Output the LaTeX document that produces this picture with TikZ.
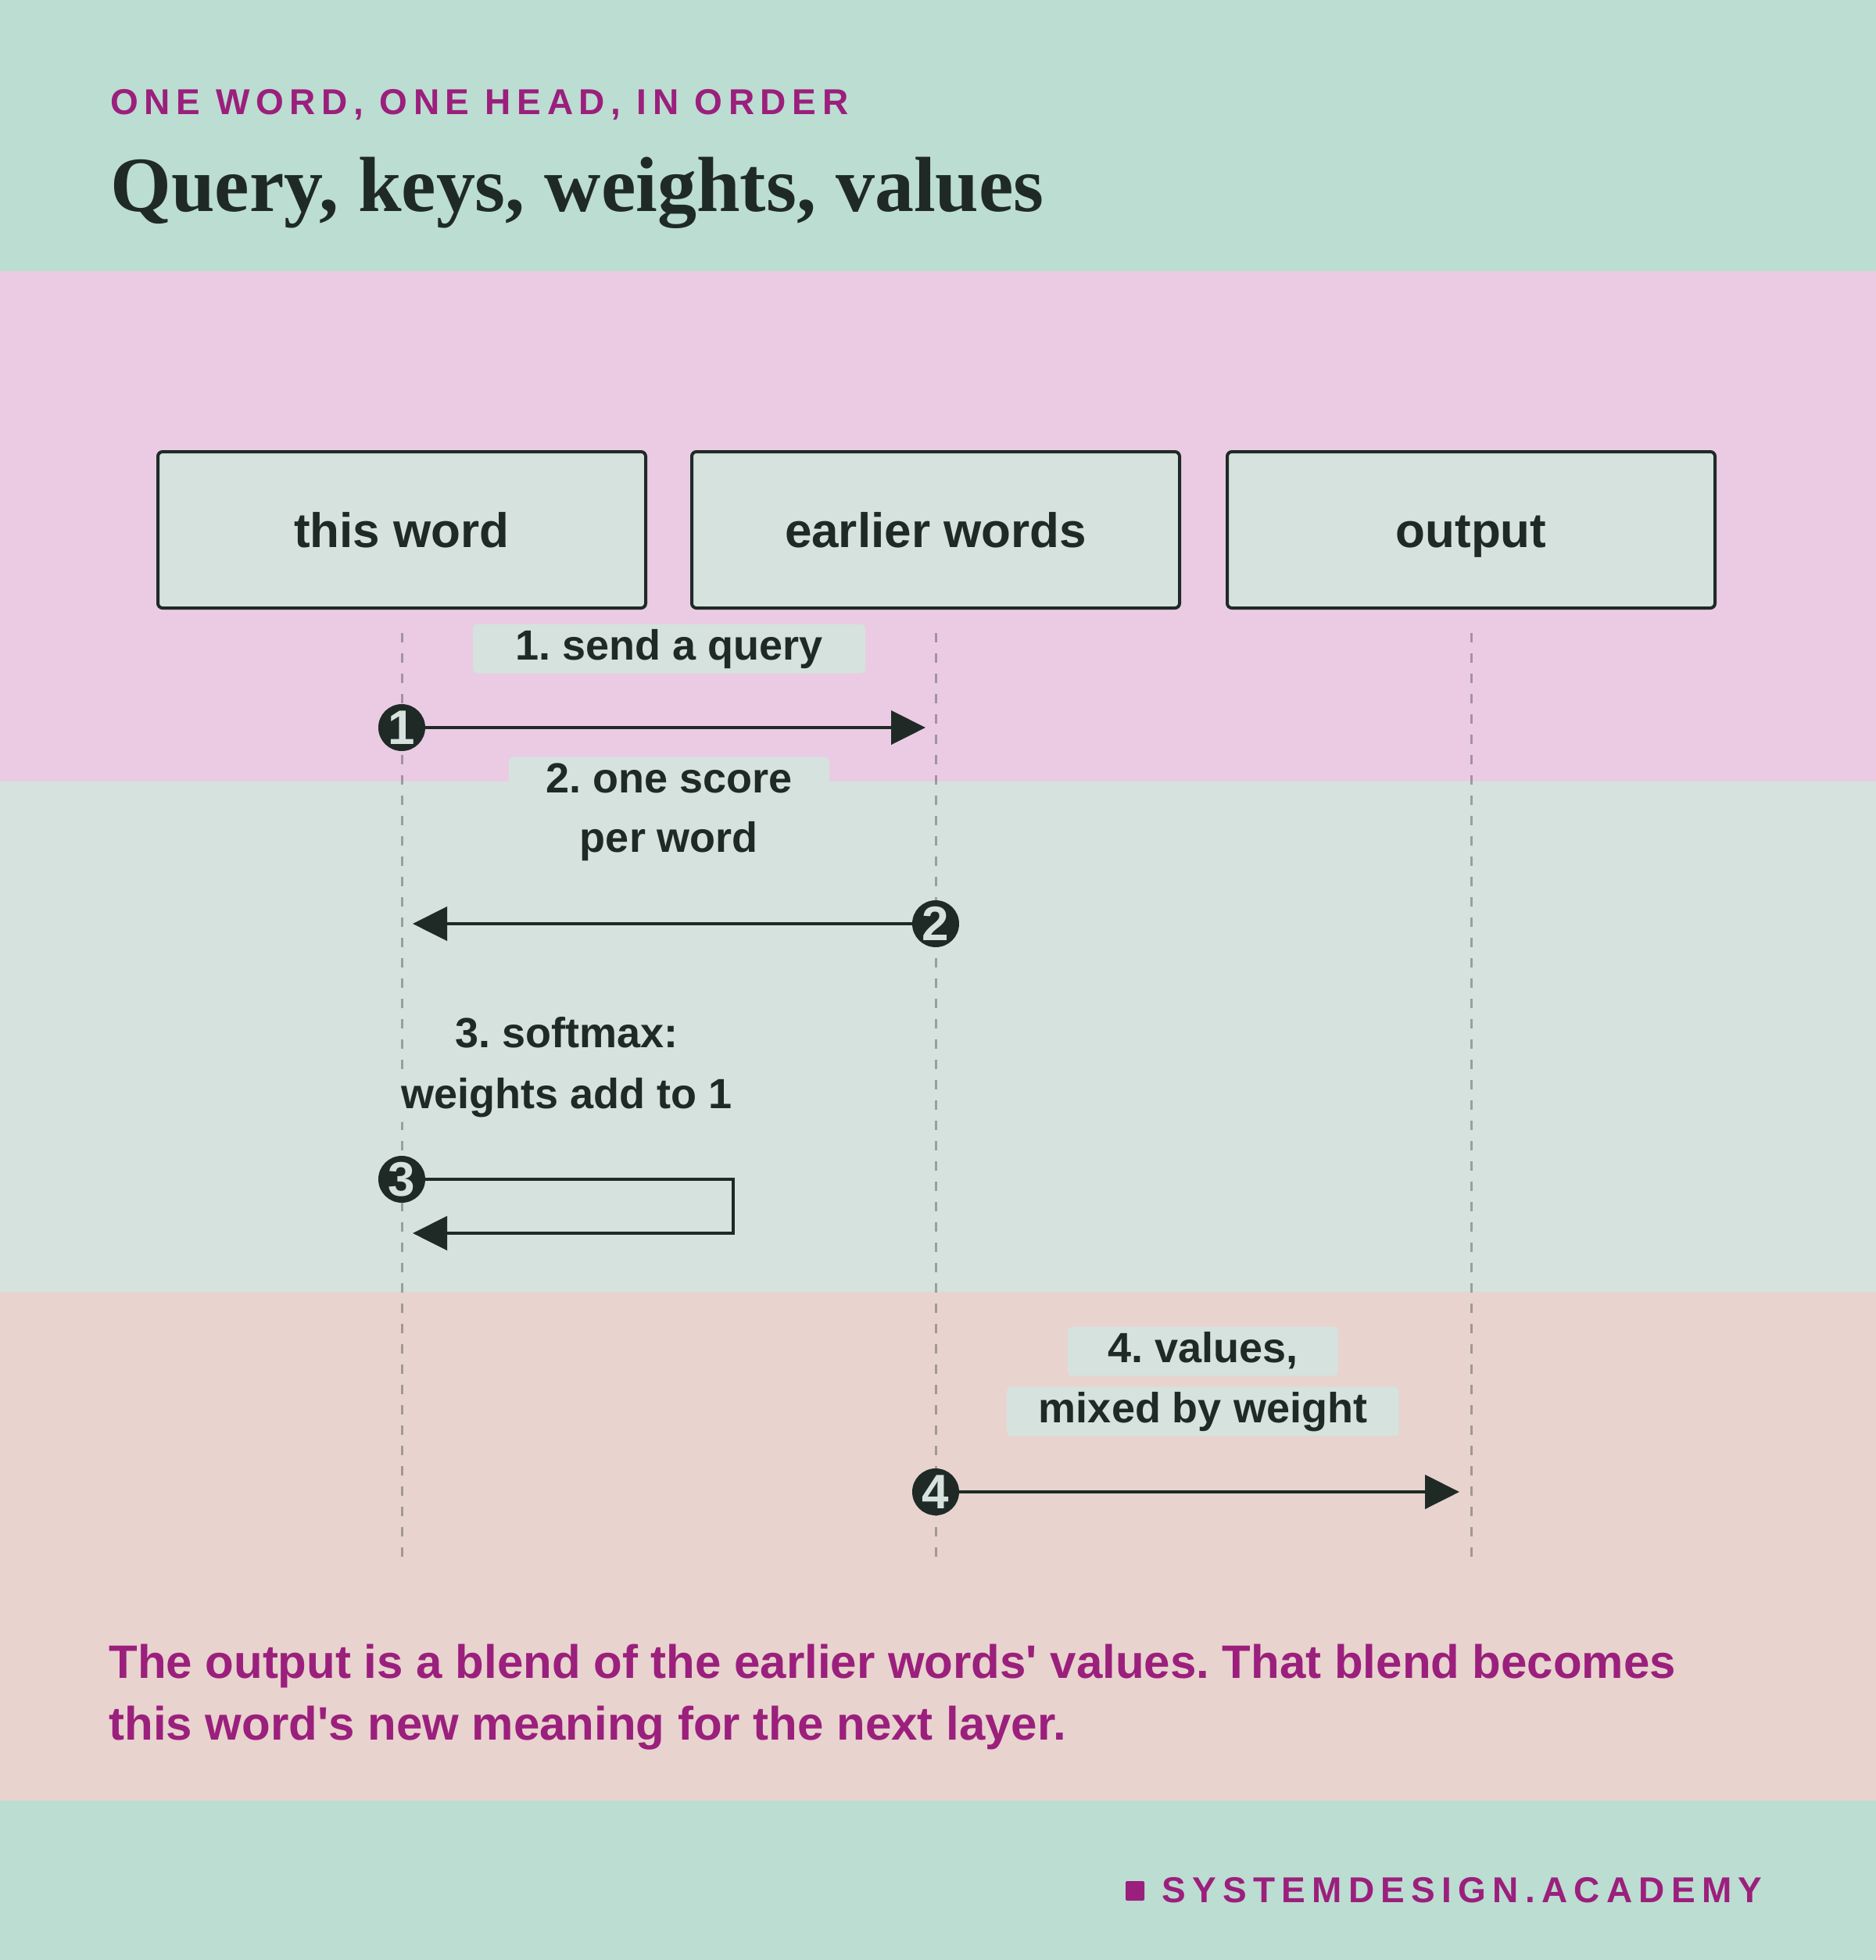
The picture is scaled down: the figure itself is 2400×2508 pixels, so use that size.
\documentclass[tikz,border=0pt]{standalone}
\usepackage{fontspec}
\setmainfont{Liberation Sans}[Ligatures=TeXOff]
\newfontfamily\titlefont{Liberation Serif}
\newfontfamily\spacedA{Liberation Sans}[LetterSpace=16.5]
\newfontfamily\spacedB{Liberation Sans}[LetterSpace=18]
\usetikzlibrary{arrows.meta}
\definecolor{bgteal}{HTML}{BCDDD1}
\definecolor{bgpink}{HTML}{EBCBE3}
\definecolor{bggrey}{HTML}{D5E2DE}
\definecolor{bgbeige}{HTML}{E8D3CE}
\definecolor{boxfill}{HTML}{D5E2DE}
\definecolor{ink}{HTML}{1F2A26}
\definecolor{accent}{HTML}{9B1F7C}
\tikzset{
  actor/.style={draw=ink, line width=2pt, fill=boxfill, rounded corners=3pt,
    minimum width=312pt, minimum height=100pt, inner sep=0pt, text=ink,
    text height=22.6pt, text depth=0pt,
    font=\bfseries\fontsize{31}{37}\selectfont},
  lifeline/.style={draw=ink, draw opacity=0.35, line width=1.5pt, dash pattern=on 6pt off 7pt},
  numdot/.style={circle, fill=ink, text=boxfill, inner sep=0pt, minimum size=30pt,
    font=\bfseries\fontsize{31}{31}\selectfont},
  msg/.style={draw=ink, line width=2.3pt, -{Triangle[length=22pt,width=21.5pt]}},
  lbl/.style={fill=boxfill, rounded corners=3pt, inner sep=0pt, text=ink,
    minimum height=31.5pt, text height=19.7pt, text depth=5.7pt,
    font=\bfseries\fontsize{27}{32}\selectfont},
  plain/.style={inner sep=0pt, anchor=base west}
}
\begin{document}
\frenchspacing
\begin{tikzpicture}[x=0.5pt,y=-0.5pt]
\useasboundingbox (0,0) rectangle (2400,2508);
% bands
\fill[bgteal] (0,0) rectangle (2400,347);
\fill[bgpink] (0,347) rectangle (2400,1000);
\fill[bggrey] (0,1000) rectangle (2400,1653);
\fill[bgbeige] (0,1653) rectangle (2400,2304);
\fill[bgteal] (0,2304) rectangle (2400,2508);
% header
\node[plain, text=accent, font=\spacedA\bfseries\fontsize{23}{23}\selectfont] (kicker) at (141,146) {ONE WORD, ONE HEAD, IN ORDER};
\node[plain, text=ink, font=\titlefont\bfseries\fontsize{50}{50}\selectfont] (title) at (141,270) {Query, keys, weights, values};
% actors
\node[actor] (tw) at (514,678) {this word};
\node[actor] (ew) at (1197,678) {earlier words};
\node[actor] (out) at (1882,678) {output};
% lifelines
\coordinate (twend) at (514,1992);
\coordinate (ewend) at (1197,1992);
\coordinate (outend) at (1882,1992);
\draw[lifeline] ([yshift=-15pt]tw.south) -- (twend);
\draw[lifeline] ([yshift=-15pt]ew.south) -- (ewend);
\draw[lifeline] ([yshift=-15pt]out.south) -- (outend);
% labels
\node[lbl, minimum width=251pt] (l1) at (856,830) {1. send a query};
\node[lbl, minimum width=205pt] (l2a) at (856,1000) {2. one score};
\node[lbl, minimum width=170pt] (l2b) at (856,1076) {per word};
\node[lbl, minimum width=170pt] (l3a) at (725,1326) {3. softmax:};
\node[lbl, minimum width=230pt] (l3b) at (725,1404) {weights add to 1};
\node[lbl, minimum width=173pt] (l4a) at (1539,1729) {4. values,};
\node[lbl, minimum width=251pt] (l4b) at (1539,1806) {mixed by weight};
% message 1
\node[numdot] (c1) at (514,931) {1};
\coordinate (t1) at (1184,931);
\draw[msg] (c1.east) -- (t1);
% message 2
\node[numdot] (c2) at (1197,1182) {2};
\coordinate (t2) at (528,1182);
\draw[msg] (c2.west) -- (t2);
% message 3 (self)
\node[numdot] (c3) at (514,1509) {3};
\coordinate (s3a) at (938,1509);
\coordinate (s3b) at (938,1578);
\coordinate (t3) at (528,1578);
\draw[msg] (c3.east) -- (s3a) -- (s3b) -- (t3);
% message 4
\node[numdot] (c4) at (1197,1909) {4};
\coordinate (t4) at (1867,1909);
\draw[msg] (c4.east) -- (t4);
% footer text
\node[plain, text=accent, font=\bfseries\fontsize{30}{30}\selectfont] (f1) at (139,2147) {The output is a blend of the earlier words' values. That blend becomes};
\node[plain, text=accent, font=\bfseries\fontsize{30}{30}\selectfont] (f2) at (139,2226) {this word's new meaning for the next layer.};
% brand
\fill[accent, rounded corners=1pt] (1440,2407) rectangle (1464,2432);
\node[plain, text=accent, font=\spacedB\bfseries\fontsize{23}{23}\selectfont] (brand) at (1486,2434) {SYSTEMDESIGN.ACADEMY};
\end{tikzpicture}
\end{document}
